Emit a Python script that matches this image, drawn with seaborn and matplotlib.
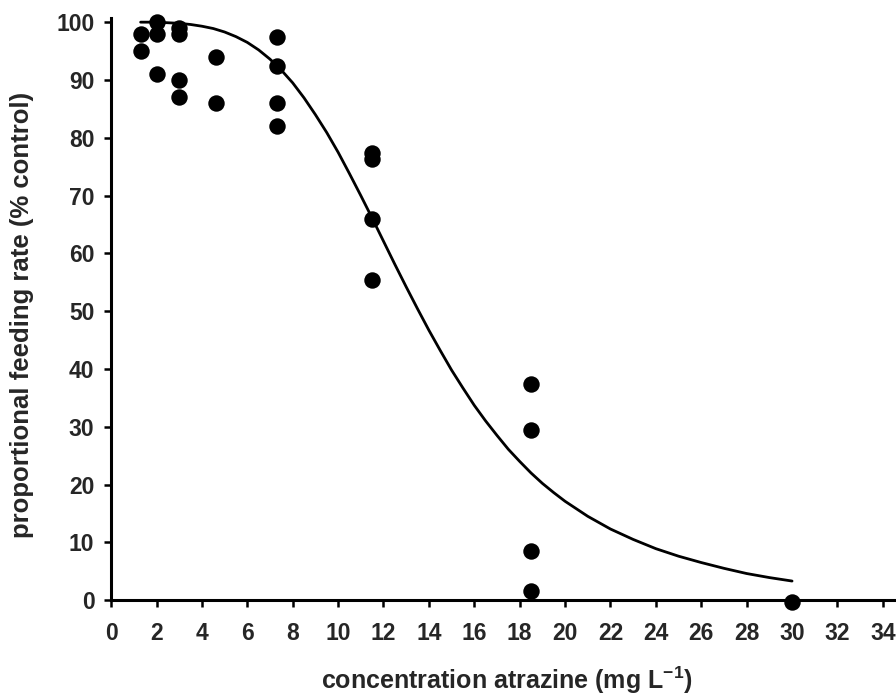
import matplotlib
matplotlib.use("Agg")
import matplotlib.pyplot as plt
import seaborn as sns
import pandas as pd

# observed points
conc = [1.3, 1.3, 2.0, 2.0, 2.0, 3.0, 3.0, 3.0, 3.0, 4.6, 4.6,
        7.3, 7.3, 7.3, 7.3, 11.5, 11.5, 11.5, 11.5,
        18.5, 18.5, 18.5, 18.5, 30.0]
rate = [98, 95, 100, 98, 91, 99, 98, 90, 87, 94, 86,
        97.4, 92.4, 86, 82, 77.3, 76.3, 66, 55.4,
        37.4, 29.4, 8.5, 1.5, -0.3]

# fitted curve
curve_x = [1.3, 2, 3, 3.5, 4, 4.5, 5, 5.5, 6, 6.5, 7, 7.5, 8, 8.5, 9, 9.5,
           10, 10.5, 11, 11.5, 12, 12.5, 13, 13.5, 14, 14.5, 15, 15.5, 16,
           16.5, 17, 17.5, 18, 18.5, 19, 19.5, 20, 21, 22, 23, 24, 25, 26,
           27, 28, 29, 30]
curve_y = [100, 100, 99.8, 99.6, 99.3, 98.9, 98.3, 97.5, 96.5, 95.2, 93.6,
           91.7, 89.5, 86.9, 84.0, 80.9, 77.5, 73.8, 70.0, 66.1, 62.1, 58.1,
           54.2, 50.4, 46.7, 43.2, 39.8, 36.7, 33.7, 31.0, 28.5, 26.1, 24.0,
           22.0, 20.2, 18.6, 17.1, 14.5, 12.3, 10.5, 8.9, 7.6, 6.5, 5.5, 4.6,
           3.9, 3.3]

xticks = list(range(0, 35, 2))
yticks = list(range(0, 101, 10))

sns.set_style("ticks")
plt.rcParams['font.family'] = ['Liberation Sans', 'DejaVu Sans']
plt.rcParams['mathtext.fontset'] = 'custom'
plt.rcParams['mathtext.rm'] = 'Liberation Sans:bold'
plt.rcParams['mathtext.bf'] = 'Liberation Sans:bold'

fig = plt.figure(figsize=(8.96, 6.97), dpi=100)
ax = fig.add_axes([0.124, 0.139, 0.874, 0.835])

df_pts = pd.DataFrame({"x": conc, "y": rate})
df_curve = pd.DataFrame({"x": curve_x, "y": curve_y})

sns.lineplot(data=df_curve, x="x", y="y", ax=ax, color="black", linewidth=2.0,
             zorder=2)
sns.scatterplot(data=df_pts, x="x", y="y", ax=ax, color="black", s=140,
                edgecolor="black", linewidth=0, zorder=3, clip_on=False)

ax.set_xlim(0, 34.5)
ax.set_ylim(0, 100.7)
ax.set_xticks(xticks)
ax.set_yticks(yticks)
ax.set_xticklabels([str(t) for t in xticks], fontsize=16.5, fontweight="bold")
ax.set_yticklabels([str(t) for t in yticks], fontsize=16.5, fontweight="bold")
ax.tick_params(axis="both", direction="out", length=5, width=1.8, color="black")
ax.tick_params(axis="x", pad=11)
ax.tick_params(axis="y", pad=7)

ax.set_xlabel("concentration atrazine (mg L$^{\\mathbf{-1}}$)", fontsize=18,
              fontweight="bold")
ax.set_ylabel("proportional feeding rate (% control)", fontsize=18.5,
              fontweight="bold")
ax.xaxis.set_label_coords(0.505, -0.11)
ax.yaxis.set_label_coords(-0.098, 0.49)

sns.despine(ax=ax)
for s in ["left", "bottom"]:
    ax.spines[s].set_linewidth(2.2)
    ax.spines[s].set_color("black")

fig.savefig("out.png", dpi=100)
